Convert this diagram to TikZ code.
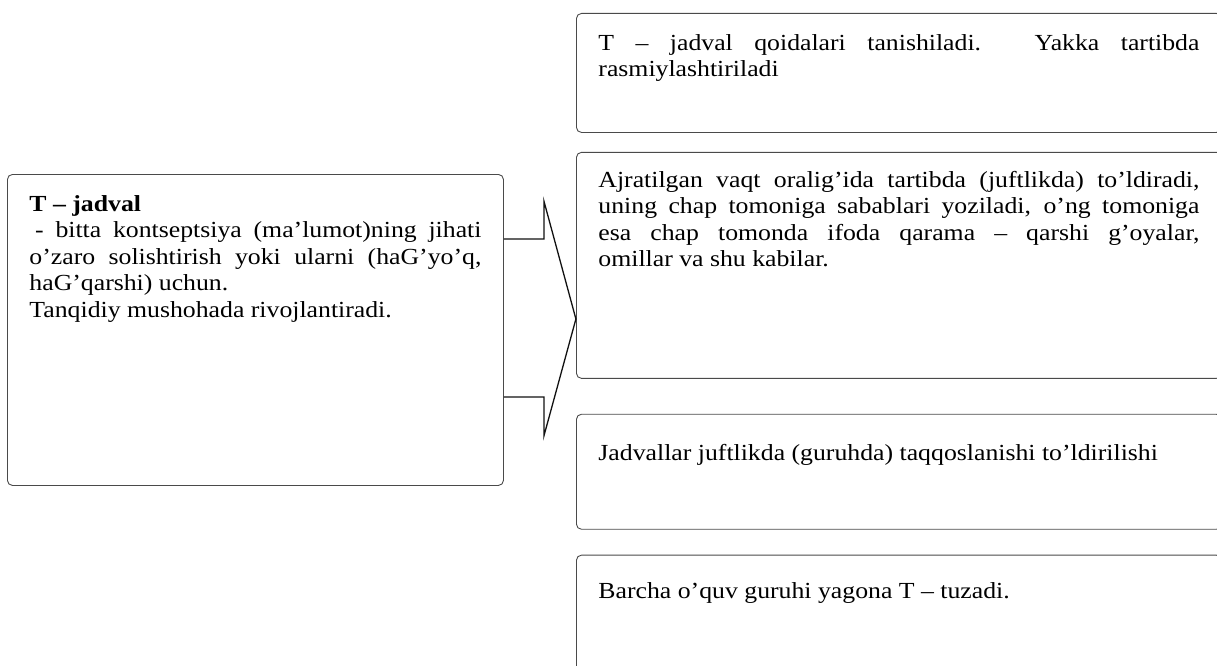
\documentclass[tikz,border=0pt]{standalone}
\usepackage{fontspec}
\setmainfont{Liberation Serif}[FakeStretch=1.12]
\usetikzlibrary{calc, positioning}
\definecolor{paneGray}{HTML}{4A4A4A}
\definecolor{arrowDark}{HTML}{111111}
\hyphenpenalty=10000
\tolerance=9999
\begin{document}
\begin{tikzpicture}[x=1pt, y=-1pt,
    pane/.style={rectangle, rounded corners=5pt, draw=paneGray, line width=0.9pt,
      anchor=north west, inner xsep=22pt, inner ysep=0pt, text height=37pt,
      align=justify, font=\fontsize{23}{26.5}\selectfont, text=black},
    wide/.style={pane, text width=601pt},
    blok/.style={line width=1.3pt, draw=arrowDark, line join=miter}]
  \clip (0,0) rectangle (1217,666);
  \node[pane, text width=452pt, text depth=274pt] (tj) at (7,174)
    {\textbf{T – jadval}\\
     \hspace*{0.25em}- bitta kontseptsiya (ma’lumot)ning jihati\linebreak
     o’zaro solishtirish yoki ularni (haG’yo’q,\linebreak
     haG’qarshi) uchun.\\
     Tanqidiy mushohada rivojlantiradi.};
  \node[wide, text depth=82pt] (q1) at (576,13)
    {T – jadval qoidalari tanishiladi. Yakka tartibda\linebreak
     rasmiylashtiriladi};
  \node[wide, text height=35pt, text depth=191pt, below=19pt of q1] (q2)
    {Ajratilgan vaqt oralig’ida tartibda (juftlikda) to’ldiradi,\linebreak
     uning chap tomoniga sabablari yoziladi, o’ng tomoniga\linebreak
     esa chap tomonda ifoda qarama – qarshi g’oyalar,\linebreak
     omillar va shu kabilar.};
  \node[wide, text height=46pt, text depth=69pt, below=35pt of q2] (q3)
    {Jadvallar juftlikda (guruhda) taqqoslanishi to’ldirilishi};
  \node[wide, text height=43pt, text depth=107pt, below=25pt of q3] (q4)
    {Barcha o’quv guruhi yagona T – tuzadi.};
  \draw[blok] ($(tj.north east)+(0,65)$) -- ++(40,0) -- ++(0,-38)
    -- ($(tj.north east)+(72,145)$) -- ($(tj.north east)+(40,262)$)
    -- ++(0,-39) -- ++(-40,0);
\end{tikzpicture}
\end{document}
